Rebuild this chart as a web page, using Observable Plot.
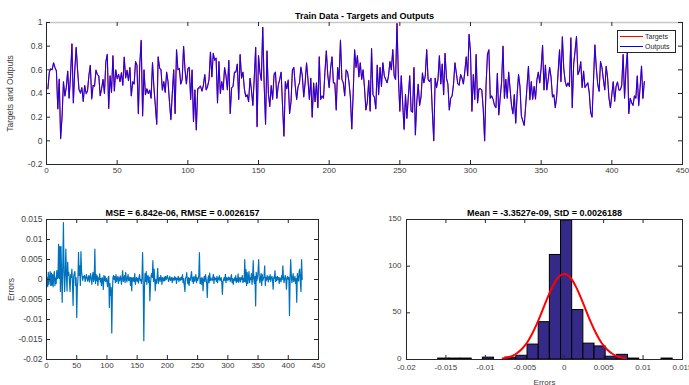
<!DOCTYPE html>
<html>
<head>
<meta charset="utf-8">
<script src="https://cdn.jsdelivr.net/npm/d3@7"></script>
<script src="https://cdn.jsdelivr.net/npm/@observablehq/plot@0.6"></script>
<style>
  html, body { margin: 0; padding: 0; background: #fff; }
  #root { position: relative; width: 689px; height: 385px; background: #fff; overflow: hidden; }
  .chart { position: absolute; }
  .legend { position: absolute; left: 617px; top: 30px; width: 57px; height: 21px; border: 1px solid #262626; background: #fff;
            font-family: 'Liberation Sans', Arial, sans-serif; font-size: 7px; color: #262626; }
  .legend .row { position: absolute; left: 2px; height: 9px; display: flex; align-items: center; }
  .legend .sw { width: 23px; height: 0; border-top-width: 1.5px; border-top-style: solid; margin-right: 2px; }
</style>
</head>
<body>
<div id="root"></div>
<script>
// ---------- data ----------
const targets = [
  0.44, 0.58, 0.61, 0.60, 0.66, 0.62, 0.59, 0.27, 0.52, 0.02,
  0.20, 0.50, 0.38, 0.45, 0.59, 0.36, 0.55, 0.82, 0.32, 0.60,
  0.79, 0.60, 0.43, 0.41, 0.45, 0.33, 0.47, 0.41, 0.42, 0.55,
  0.64, 0.36, 0.47, 0.46, 0.60, 0.56, 0.55, 0.38, 0.44, 0.52,
  0.40, 0.67, 0.73, 0.27, 0.55, 0.41, 0.72, 0.42, 0.60, 0.52,
  0.56, 0.50, 0.58, 0.47, 0.71, 0.53, 0.60, 0.51, 0.62, 0.38,
  0.50, 0.48, 0.67, 0.64, 0.23, 0.65, 0.85, 0.21, 0.60, 0.39,
  0.44, 0.40, 0.43, 0.36, 0.66, 0.45, 0.30, 0.14, 0.71, 0.62,
  0.60, 0.43, 0.50, 0.41, 0.58, 0.50, 0.33, 0.18, 0.40, 0.60,
  0.23, 0.77, 0.60, 0.61, 0.48, 0.52, 0.80, 0.60, 0.48, 0.61,
  0.62, 0.35, 0.60, 0.16, 0.43, 0.09, 0.44,
  0.44, 0.46, 0.42, 0.47, 0.56, 0.43, 0.46, 0.52, 0.75, 0.54,
  0.74, 0.68, 0.70, 0.32, 0.67, 0.40, 0.50, 0.43, 0.62, 0.55,
  0.43, 0.68, 0.23, 0.45, 0.46, 0.58, 0.58, 0.65, 0.35, 0.73,
  0.53, 0.58, 0.44, 0.37, 0.39, 0.33, 0.53, 0.43, 0.30, 0.53,
  0.79, 0.12, 0.72, 0.58, 0.51, 0.96, 0.48, 0.14, 0.76, 0.40,
  0.29, 0.47, 0.35, 0.55, 0.58, 0.36, 0.47, 0.52, 0.58, 0.30,
  0.04, 0.50, 0.44, 0.51, 0.23, 0.33, 0.60, 0.62, 0.47, 0.35,
  0.46, 0.49, 0.62, 0.55, 0.37, 0.49, 0.66, 0.52, 0.35, 0.53,
  0.20, 0.49, 0.33, 0.49, 0.28, 0.71, 0.35, 0.38, 0.36, 0.58,
  0.76, 0.56, 0.45, 0.61, 0.71, 0.49, 0.49, 0.26, 0.62, 0.52,
  0.85, 0.52, 0.49, 0.38, 0.60, 0.58,
  0.50, 0.37, 0.10, 0.40, 0.77, 0.62, 0.72, 0.54, 0.66, 0.52,
  0.60, 0.45, 0.26, 0.33, 0.51, 0.25, 0.78, 0.39, 0.37, 0.27,
  0.64, 0.39, 0.62, 0.46, 0.66, 0.55, 0.52, 0.49, 0.55, 0.67,
  0.60, 0.77, 0.55, 0.52, 1.00, 0.53, 0.25, 0.55, 0.32, 0.10,
  0.39, 0.19, 0.37, 0.55, 0.25, 0.24, 0.62, 0.05, 0.33, 0.48,
  0.30, 0.37, 0.57, 0.49, 0.55, 0.77, 0.52, 0.50, 0.53, 0.25,
  0.00, 0.53, 0.45, 0.52, 0.72, 0.48, 0.65, 0.39, 0.74, 0.53,
  0.48, 0.26, 0.36, 0.38, 0.48, 0.66, 0.57, 0.48, 0.47, 0.56,
  0.53, 0.48, 0.59, 0.71, 0.55, 0.90, 0.75, 0.25, 0.56, 0.35,
  0.73, 0.32, 0.44, 0.44, 0.43, 0.27, 0.00, 0.47, 0.73, 0.77,
  0.36, 0.38, 0.35, 0.30,
  0.28, 0.57, 0.22, 0.36, 0.50, 0.80, 0.36, 0.52, 0.36, 0.58,
  0.44, 0.30, 0.23, 0.39, 0.15, 0.39, 0.56, 0.46, 0.21, 0.17,
  0.13, 0.29, 0.46, 0.63, 0.35, 0.50, 0.35, 0.46, 0.35, 0.52,
  0.58, 0.49, 0.62, 0.81, 0.43, 0.64, 0.43, 0.52, 0.62, 0.54,
  0.37, 0.39, 0.28, 0.38, 0.58, 0.77, 0.50, 0.88, 0.61, 0.50,
  0.46, 0.49, 0.46, 0.87, 0.28, 0.65, 0.76, 0.88, 0.56, 0.59,
  0.67, 0.45, 0.59, 0.45, 0.47, 0.49, 0.41, 0.24, 0.20, 0.50,
  0.81, 0.62, 0.48, 0.42, 0.67, 0.62, 0.52, 0.43, 0.63, 0.53,
  0.36, 0.28, 0.39, 0.50, 0.33, 0.46, 0.50, 0.43, 0.43, 0.47,
  0.73, 0.36, 0.60, 0.76, 0.23, 0.36, 0.32, 0.30, 0.38, 0.36,
  0.55, 0.30, 0.45, 0.63, 0.36, 0.50
];

// errors (targets - outputs), in units of 1e-3
const errorsMilli = [
  0.5, -1.8, 1.8, -1.2, 0.3, 2.0, -1.5, 1.6, -1.4, 1.2,
  -1.8, 0.9, 2.0, -1.5, 0.4, -1.0, 2.2, 0.2, 0.5, 8.8,
  0.3, 8.2, -3.0, 8.3, 1.0, -5.7, 4.0, 14.2, 2.0, -3.0,
  1.5, 7.6, 0.8, -2.9, 4.3, 1.0, 1.7, -0.5, -3.0, 1.2,
  0.5, 2.6, -1.0, -6.5, 0.8, 1.5, 2.0, -1.5, 0.5, -9.5,
  -2.0, 0.0, 6.8, 1.0, 3.4, -1.5, 7.0, 2.0, 0.8, -0.2,
  0.8, 0.5, 1.0, -0.5, 0.2, 1.2, 0.6, -0.4, 0.3, 1.0,
  -0.6, 0.5, 1.5, 0.0, -1.2, 0.7, 1.8, -0.5, 0.3, 7.6,
  -1.0, 1.3, -0.3, 0.9, -1.5, 0.4, 0.0, 1.4, -0.6, 0.2,
  -1.5, 0.5, 0.0, -2.5, 1.0, -0.3, 0.8, -0.5, 0.3, -0.5,
  -1.8, 0.5, 0.8, -7.0, -1.0, -4.0, -2.0, -13.4, -3.0, 0.5,
  1.0, 0.0, 0.7, -0.8, 1.2, -0.5, 0.3, 0.8, -1.0, 0.4,
  -0.3, 0.9, 0.2, -1.2, 0.6, 2.2, -0.5, 0.0, 1.0, -0.8,
  1.8, 0.2, -0.6, 0.5, 1.2, -0.3, 0.0, 0.6, -1.5, 0.5,
  -2.8, 0.4, -0.4, 0.5, -0.5, 1.5, -1.2, 0.0, 0.5, -0.4,
  0.3, -0.9, 0.6, 1.2, -0.3, 0.0, -1.0, 0.5, 6.7, -1.0,
  -15.3, -2.0, 1.5, -0.5, 2.0, -1.2, 0.8, 1.0, -0.8, 0.6,
  -5.3, -1.0, 0.8, 1.5, 0.5, 4.7, -0.5, 2.6, 0.3, -2.8,
  0.0, -1.0, 0.5, 2.8, -1.0, 0.2, 0.5, -0.5, 1.0, 0.3,
  -1.2, 0.5, 0.2, -0.4, 0.6, -0.3, 0.8, 0.0, 0.4, 1.0,
  0.2, -0.5, 0.3, 0.8, -0.2, 0.0, 0.5, -0.8, 0.4, 0.2,
  -0.3, 0.7, 0.0, 0.5, -1.0, 0.3, 0.0, 0.8, -0.5, 0.2,
  0.4, -0.2, 0.6, 0.0, 1.2, -0.8, 0.2, -1.5, -3.0, 0.4,
  0.5, 1.7, -0.3, -1.1, 0.5, -1.5, 0.3, -0.2, 1.0, 2.0,
  -0.5, 0.5, -1.0, 0.8, -0.4, 0.0, 1.2, -0.8, 0.5, -0.3,
  0.2, 1.0, 6.7, -1.0, 0.3, -1.2, 0.5, 0.2, -2.8, 0.0,
  0.8, -0.5, 1.2, 0.2, -1.0, -4.5, 0.0, 0.9, -0.8, 1.6,
  -0.3, 0.4, 0.0, -0.3, 0.3, 1.3, -1.0, 0.6, 0.0, 0.3,
  -0.5, 0.8, -0.8, 0.4, 0.0, 1.0, -0.3, 0.0, 0.5, -0.7,
  -3.7, -0.5, 0.0, 0.5, -0.3, 1.3, -0.8, 0.5, 0.2, -0.3,
  0.6, 0.0, 0.4, -0.5, 0.5, 1.2, -0.8, 0.2, -1.2, 0.0,
  0.4, -0.3, 1.0, -0.8, 0.3, -0.5, 1.4, -0.7, 0.2, 0.5,
  -0.6, 0.4, 0.0, 1.0, -0.8, 0.3, -0.5, 5.0, -0.6, 2.5,
  -1.5, 1.8, -1.0, 0.5, 2.0, -0.8, 0.4, 0.0, 1.5, -1.2,
  0.6, 4.7, 0.0, -1.0, 0.8, -6.6, 1.8, -0.3, 0.5, 2.0,
  5.0, 0.3, -0.8, 0.5, 1.5, -1.5, 1.2, -0.2, 0.3, 0.8,
  3.4, -1.5, 0.5, -0.2, 1.0, 0.3, -0.6, 0.8, 0.0, 1.2,
  -0.5, 0.4, 0.8, 0.0, -2.4, 0.6, 0.3, 2.2, -0.5, 0.6,
  -0.3, 0.8, 0.0, 0.5, -1.0, 0.4, 0.2, -0.6, 1.0, 0.0,
  3.4, 0.5, -0.8, 0.3, 1.0, 0.0, -2.4, 0.4, 0.8, 0.0,
  0.5, -9.0, 0.0, 5.0, 1.2, -0.8, 0.3, 1.5, -0.5, 0.0,
  0.8, -1.0, 0.2, -5.7, 1.5, 0.0, -0.4, 2.0, 2.6, -0.5,
  -3.0, 5.0, 0.0
];

// histogram of errors (21 bins)
const binCenters = [
  -0.015272, -0.013856, -0.012440, -0.011024, -0.009608, -0.008192, -0.006776,
  -0.005360, -0.003944, -0.002528, -0.001112, 0.000304, 0.001720, 0.003136,
  0.004552, 0.005968, 0.007384, 0.008800, 0.010216, 0.011632, 0.013048
];
const binWidth = 0.001416;
const binCounts = [1, 1, 1, 0, 2, 0, 2, 4, 16, 40, 112, 149, 53, 17, 14, 3, 5, 1, 0, 0, 1];

// fitted normal curve
const fitX = [-0.0078, -0.007, -0.0065, -0.006, -0.0055, -0.005, -0.0045, -0.004, -0.0035, -0.003, -0.0025, -0.002, -0.0015, -0.001, -0.0005, 0,
              0.0005, 0.001, 0.0015, 0.002, 0.0025, 0.003, 0.0035, 0.004, 0.0045, 0.005, 0.0055, 0.006, 0.0065, 0.007, 0.0078];
const fitY = [1.1, 2.6, 4.2, 6.7, 10.1, 14.8, 21.0, 28.6, 37.6, 47.6, 58.2, 68.5, 77.8, 85.3, 90.0, 91.7,
              90.0, 85.3, 77.8, 68.5, 58.2, 47.6, 37.6, 28.6, 21.0, 14.8, 10.1, 6.7, 4.2, 2.6, 1.1];

// tick labels
const topXTicks = [0, 50, 100, 150, 200, 250, 300, 350, 400, 450];
const topYTicks = [-0.2, 0, 0.2, 0.4, 0.6, 0.8, 1];
const errXTicks = [0, 50, 100, 150, 200, 250, 300, 350, 400, 450];
const errYTicks = [-0.02, -0.015, -0.01, -0.005, 0, 0.005, 0.01, 0.015];
const histXTicks = [-0.02, -0.015, -0.01, -0.005, 0, 0.005, 0.01, 0.015];
const histYTicks = [0, 50, 100, 150];

const titles = {
  top: "Train Data - Targets and Outputs",
  err: "MSE = 6.842e-06, RMSE = 0.0026157",
  hist: "Mean = -3.3527e-09, StD = 0.0026188"
};

// ---------- build tables ----------
const n = Math.min(targets.length, errorsMilli.length);
const series = d3.range(n).map(i => ({
  x: i + 1,
  target: targets[i],
  error: errorsMilli[i] / 1000,
  output: targets[i] - errorsMilli[i] / 1000
}));
const bins = binCenters.map((c, i) => ({c, n: binCounts[i]}));
const fit = fitX.map((x, i) => ({x, y: fitY[i]}));

const FONT = "'Liberation Sans', Arial, Helvetica, sans-serif";
const INK = "#262626";
const TICKTXT = "#404040";
const fmt = d => String(d);

function boxMarks(xTicks, yTicks, innerW, innerH, lightTop) {
  return [
    Plot.frame({anchor: "left", stroke: INK}),
    Plot.frame({anchor: "right", stroke: INK}),
    Plot.frame({anchor: "bottom", stroke: INK}),
    Plot.frame({anchor: "top", stroke: lightTop ? "#c8c8c8" : INK, strokeWidth: lightTop ? 1.5 : 1}),
    Plot.tickX(xTicks, {x: d => d, insetTop: innerH - 4, stroke: INK}),
    Plot.tickX(xTicks, {x: d => d, insetBottom: innerH - 4, stroke: INK}),
    Plot.tickY(yTicks, {y: d => d, insetRight: innerW - 4, stroke: INK}),
    Plot.tickY(yTicks, {y: d => d, insetLeft: innerW - 4, stroke: INK})
  ];
}
function titleMark(t) {
  return Plot.text([t], {text: d => d, frameAnchor: "top", lineAnchor: "bottom", dy: -4,
    fontWeight: "bold", fontSize: 9, fill: "#000"});
}
const style = {fontFamily: FONT, fontSize: "8px", color: TICKTXT, background: "transparent", overflow: "visible"};

const root = document.getElementById("root");
function place(el, left, top) {
  el.classList.add("chart");
  el.style.left = left + "px";
  el.style.top = top + "px";
  root.appendChild(el);
}

// ---------- top chart ----------
{
  const W = 689, H = 180, mL = 46, mR = 7, mT = 22, mB = 16;
  const chart = Plot.plot({
    width: W, height: H, marginLeft: mL, marginRight: mR, marginTop: mT, marginBottom: mB,
    style,
    x: {domain: [0, 450]},
    y: {domain: [-0.2, 1]},
    marks: [
      Plot.line(series, {x: "x", y: "target", stroke: "#ff0000", strokeWidth: 1}),
      Plot.line(series, {x: "x", y: "output", stroke: "#0000ff", strokeWidth: 1.1, strokeOpacity: 0.88}),
      ...boxMarks(topXTicks, topYTicks, W - mL - mR, H - mT - mB, true),
      Plot.axisX(topXTicks, {tickSize: 0, tickPadding: 3, tickFormat: fmt, label: null}),
      Plot.axisY(topYTicks, {tickSize: 0, tickPadding: 4, tickFormat: fmt, label: "Targets and Outputs",
        labelAnchor: "center", labelArrow: "none", labelOffset: 40, fontSize: 8.5}),
      titleMark(titles.top)
    ]
  });
  place(chart, 0, 0);
}

// ---------- errors line chart ----------
{
  const W = 340, H = 190, mL = 46, mR = 22, mT = 29, mB = 21;
  const chart = Plot.plot({
    width: W, height: H, marginLeft: mL, marginRight: mR, marginTop: mT, marginBottom: mB,
    style,
    x: {domain: [0, 450]},
    y: {domain: [-0.02, 0.015]},
    marks: [
      Plot.line(series, {x: "x", y: "error", stroke: "#0072bd", strokeWidth: 1.2}),
      ...boxMarks(errXTicks, errYTicks, W - mL - mR, H - mT - mB, false),
      Plot.axisX(errXTicks, {tickSize: 0, tickPadding: 3, tickFormat: fmt, label: null}),
      Plot.axisY(errYTicks, {tickSize: 0, tickPadding: 4, tickFormat: fmt, label: "Errors",
        labelAnchor: "center", labelArrow: "none", labelOffset: 39, fontSize: 8.5}),
      titleMark(titles.err)
    ]
  });
  place(chart, 0, 190);
}

// ---------- histogram ----------
{
  const W = 349, H = 195, mL = 66, mR = 7, mT = 29, mB = 26;
  const chart = Plot.plot({
    width: W, height: H, marginLeft: mL, marginRight: mR, marginTop: mT, marginBottom: mB,
    style,
    x: {domain: [-0.02, 0.015]},
    y: {domain: [0, 150]},
    marks: [
      Plot.rect(bins, {x1: d => d.c - binWidth / 2, x2: d => d.c + binWidth / 2, y1: d => 0, y2: d => d.n,
        fill: "#352a87", stroke: "#000", strokeWidth: 1}),
      Plot.line(fit, {x: "x", y: "y", stroke: "#ff0000", strokeWidth: 2, curve: "natural"}),
      ...boxMarks(histXTicks, histYTicks, W - mL - mR, H - mT - mB, false),
      Plot.axisX(histXTicks, {tickSize: 0, tickPadding: 5, tickFormat: fmt, label: "Errors",
        labelAnchor: "center", labelArrow: "none", labelOffset: 25, fontSize: 8}),
      Plot.axisY(histYTicks, {tickSize: 0, tickPadding: 5, tickFormat: fmt, label: null, dy: -1}),
      titleMark(titles.hist)
    ]
  });
  place(chart, 340, 190);
}

// ---------- legend ----------
{
  const lg = document.createElement("div");
  lg.className = "legend";
  const items = [["Targets", "#ff0000"], ["Outputs", "#0000ff"]];
  items.forEach(([label, color], i) => {
    const row = document.createElement("div");
    row.className = "row";
    row.style.top = (1 + i * 10) + "px";
    const sw = document.createElement("span");
    sw.className = "sw";
    sw.style.borderTopColor = color;
    const tx = document.createElement("span");
    tx.textContent = label;
    row.appendChild(sw);
    row.appendChild(tx);
    lg.appendChild(row);
  });
  root.appendChild(lg);
}
</script>
</body>
</html>
